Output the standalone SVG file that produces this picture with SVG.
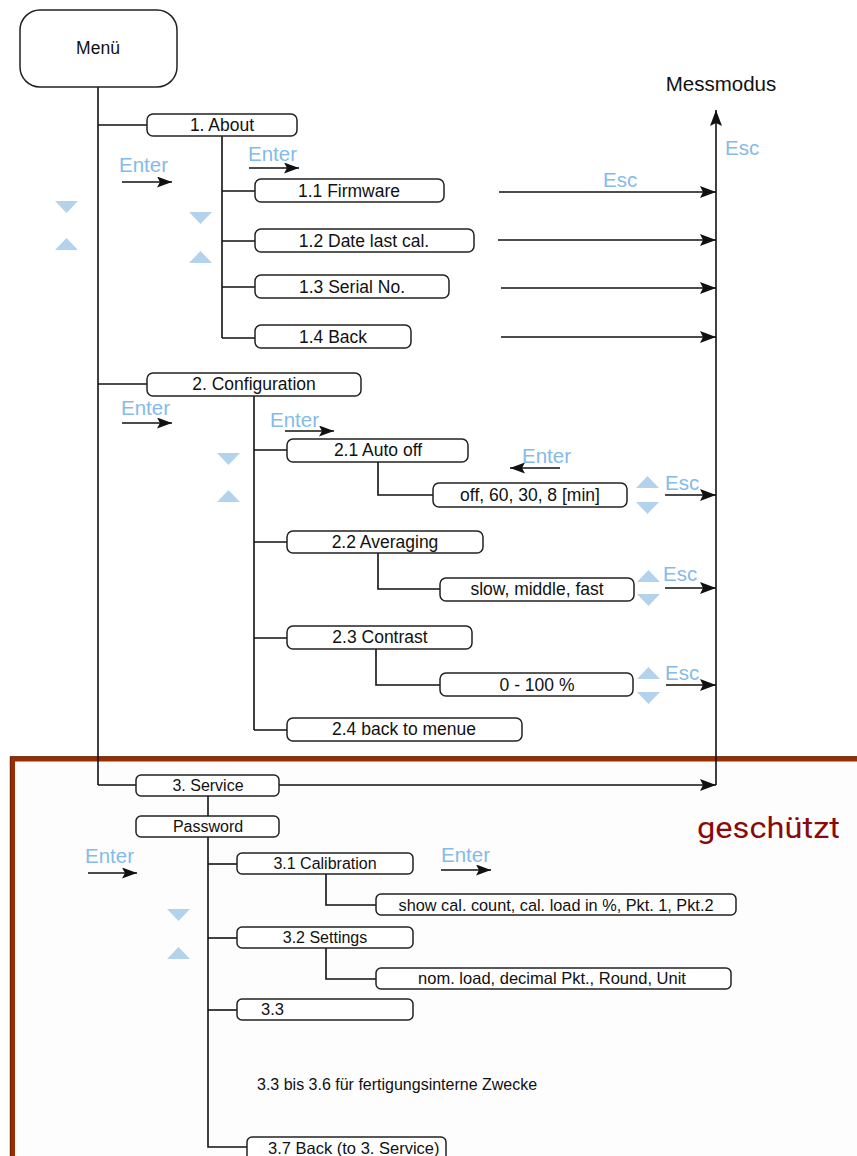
<svg xmlns="http://www.w3.org/2000/svg" width="857" height="1156" viewBox="0 0 857 1156">
<style>
.box{fill:#fff;stroke:#222;stroke-width:1.5}
.t{font-family:"Liberation Sans",Arial,sans-serif;font-size:17.5px;fill:#111;text-anchor:middle;dominant-baseline:central}
.t3{font-family:"Liberation Sans",Arial,sans-serif;font-size:16px;fill:#111;text-anchor:middle;dominant-baseline:central}
.ts{font-family:"Liberation Sans",Arial,sans-serif;font-size:16.5px;fill:#111;text-anchor:start;dominant-baseline:central}
.ln{fill:none;stroke:#111;stroke-width:1.6}
.ar{fill:none;stroke:#111;stroke-width:1.6;marker-end:url(#ah)}
.ars{fill:none;stroke:#111;stroke-width:1.5;marker-end:url(#as)}
.bl{font-family:"Liberation Sans",Arial,sans-serif;font-size:20.5px;fill:#84BBEA}
.tri{fill:#B3D2EC}
</style>
<defs>
<marker id="ah" markerUnits="userSpaceOnUse" markerWidth="16" markerHeight="12" refX="16" refY="6" orient="auto"><path d="M0,0 L16,6 L0,12 L3,6 z" fill="#111"/></marker>
<marker id="as" markerUnits="userSpaceOnUse" markerWidth="15" markerHeight="11" refX="15" refY="5.5" orient="auto"><path d="M0,0 L15,5.5 L0,11 L3,5.5 z" fill="#111"/></marker>
<path id="dn" d="M0,0 L23,0 L11.5,12 z"/>
<path id="up" d="M0,12 L23,12 L11.5,0 z"/>
</defs>
<rect width="857" height="1156" fill="#fff"/>
<!-- protected frame -->
<rect x="12.5" y="759" width="860" height="420" fill="#fdfdfd" stroke="#9A2E00" stroke-width="5"/>
<rect x="10.2" y="756.7" width="864" height="424" fill="none" stroke="#5a1a00" stroke-width="0.8"/>

<g id="connectors">
<line class="ln" x1="98" y1="87" x2="98" y2="785"/>
<polyline class="ln" points="98,785 136,785"/>
<line class="ln" x1="98" y1="125" x2="147" y2="125"/>
<line class="ln" x1="222" y1="136" x2="222" y2="338"/>
<line class="ln" x1="222" y1="191" x2="255" y2="191"/>
<line class="ln" x1="222" y1="241" x2="255" y2="241"/>
<line class="ln" x1="222" y1="287" x2="255" y2="287"/>
<line class="ln" x1="222" y1="338" x2="255" y2="338"/>
<line class="ar" x1="499" y1="192" x2="716" y2="192"/>
<line class="ar" x1="498" y1="240" x2="716" y2="240"/>
<line class="ar" x1="501" y1="288" x2="716" y2="288"/>
<line class="ar" x1="501" y1="337" x2="716" y2="337"/>
<line class="ar" x1="716" y1="785" x2="716" y2="110"/>
<line class="ln" x1="98" y1="384" x2="147" y2="384"/>
<line class="ln" x1="254" y1="396" x2="254" y2="730"/>
<line class="ln" x1="254" y1="450" x2="287" y2="450"/>
<line class="ln" x1="254" y1="542" x2="287" y2="542"/>
<line class="ln" x1="254" y1="638" x2="287" y2="638"/>
<line class="ln" x1="254" y1="730" x2="287" y2="730"/>
<polyline class="ln" points="378,462 378,495 433,495"/>
<polyline class="ln" points="378,553 378,589 440,589"/>
<polyline class="ln" points="376,649 376,685 440,685"/>
<line class="ar" x1="665" y1="495" x2="716" y2="495"/>
<line class="ar" x1="665" y1="588" x2="716" y2="588"/>
<line class="ar" x1="666" y1="685" x2="716" y2="685"/>
<line class="ar" x1="279" y1="785" x2="716" y2="785"/>
<line class="ln" x1="208" y1="796" x2="208" y2="816"/>
<polyline class="ln" points="208,837 208,1147 247,1147" stroke-width="2"/>
<line class="ln" x1="208" y1="864" x2="237" y2="864"/>
<line class="ln" x1="208" y1="938" x2="237" y2="938"/>
<line class="ln" x1="208" y1="1010" x2="237" y2="1010"/>
<polyline class="ln" points="326,874 326,905 376,905"/>
<polyline class="ln" points="326,948 326,979 376,979"/>
</g>

<g id="menu"><rect class="box" x="20" y="10" width="157" height="77" rx="20"/><text class="t" x="98" y="48">Menü</text></g>
<g id="messmodus"><text font-family="Liberation Sans,Arial,sans-serif" font-size="20.5" x="721" y="83" text-anchor="middle" dominant-baseline="central" fill="#111">Messmodus</text></g>

<g id="about"><rect class="box" x="147" y="114" width="150" height="22" rx="6"/><text class="t" x="222" y="125">1. About</text></g>
<g id="firmware"><rect class="box" x="255" y="179" width="189" height="23" rx="6"/><text class="t" x="349" y="191">1.1 Firmware</text></g>
<g id="datelastcal"><rect class="box" x="255" y="229" width="219" height="23" rx="6"/><text class="t" x="364" y="241">1.2 Date last cal.</text></g>
<g id="serialno"><rect class="box" x="255" y="275" width="194" height="23" rx="6"/><text class="t" x="352" y="287">1.3 Serial No.</text></g>
<g id="back14"><rect class="box" x="255" y="325" width="156" height="23" rx="6"/><text class="t" x="333" y="337">1.4 Back</text></g>

<g id="configuration"><rect class="box" x="147" y="373" width="214" height="23" rx="6"/><text class="t" x="254" y="384">2. Configuration</text></g>
<g id="autooff"><rect class="box" x="287" y="439" width="181" height="23" rx="6"/><text class="t" x="378" y="450">2.1 Auto off</text></g>
<g id="autooffvals"><rect class="box" x="433" y="483" width="194" height="24" rx="6"/><text class="t" x="530" y="495">off, 60, 30, 8 [min]</text></g>
<g id="averaging"><rect class="box" x="287" y="531" width="196" height="22" rx="6"/><text class="t" x="385" y="542">2.2 Averaging</text></g>
<g id="averagingvals"><rect class="box" x="440" y="578" width="194" height="23" rx="6"/><text class="t" x="537" y="589">slow, middle, fast</text></g>
<g id="contrast"><rect class="box" x="287" y="626" width="185" height="23" rx="6"/><text class="t" x="380" y="637">2.3 Contrast</text></g>
<g id="contrastvals"><rect class="box" x="440" y="673" width="193" height="23" rx="6"/><text class="t" x="537" y="685">0 - 100 %</text></g>
<g id="backtomenue"><rect class="box" x="287" y="718" width="235" height="23" rx="6"/><text class="t" x="404" y="729">2.4 back to menue</text></g>

<g id="service"><rect class="box" x="136" y="775" width="143" height="21" rx="5"/><text class="t3" x="208" y="785">3. Service</text></g>
<g id="password"><rect class="box" x="136" y="816" width="143" height="21" rx="5"/><text class="t3" x="208" y="826">Password</text></g>
<g id="calibration"><rect class="box" x="237" y="853" width="176" height="21" rx="5"/><text class="t3" x="325" y="863">3.1 Calibration</text></g>
<g id="calvals"><rect class="box" x="376" y="894" width="360" height="21" rx="5"/><text class="t3" x="556" y="905" style="font-size:16.3px">show cal. count, cal. load in %, Pkt. 1, Pkt.2</text></g>
<g id="settings"><rect class="box" x="237" y="927" width="176" height="21" rx="5"/><text class="t3" x="325" y="937">3.2 Settings</text></g>
<g id="settingsvals"><rect class="box" x="376" y="968" width="355" height="21" rx="5"/><text class="t3" x="552" y="978" style="font-size:16.5px">nom. load, decimal Pkt., Round, Unit</text></g>
<g id="n33"><rect class="box" x="237" y="999" width="176" height="21" rx="5"/><text class="ts" x="261" y="1009">3.3</text></g>
<g id="note"><text class="ts" x="257" y="1084" style="font-size:16px">3.3 bis 3.6 für fertigungsinterne Zwecke</text></g>
<g id="back37"><rect class="box" x="247" y="1137" width="199" height="26" rx="5"/><text class="ts" x="268" y="1148">3.7  Back (to 3. Service)</text></g>
<g id="geschuetzt"><text font-family="Roboto,sans-serif" font-size="30" x="697" y="838" fill="#8A0A0A" textLength="143" lengthAdjust="spacingAndGlyphs">geschützt</text></g>

<g id="labels">
<text class="bl" x="119" y="172">Enter</text>
<line class="ars" x1="122" y1="182" x2="172" y2="182"/>
<text class="bl" x="248" y="161">Enter</text>
<line class="ars" x1="249" y1="168" x2="299" y2="168"/>
<text class="bl" x="725" y="155">Esc</text>
<text class="bl" x="603" y="187">Esc</text>
<text class="bl" x="121" y="415">Enter</text>
<line class="ars" x1="122" y1="423" x2="172" y2="423"/>
<text class="bl" x="270" y="427">Enter</text>
<line class="ars" x1="285" y1="431" x2="334" y2="431"/>
<text class="bl" x="522" y="463">Enter</text>
<line class="ars" x1="560" y1="468" x2="510" y2="468"/>
<text class="bl" x="665" y="490">Esc</text>
<text class="bl" x="663" y="581">Esc</text>
<text class="bl" x="665" y="680">Esc</text>
<text class="bl" x="85" y="863">Enter</text>
<line class="ars" x1="88" y1="873" x2="137" y2="873"/>
<text class="bl" x="441" y="862">Enter</text>
<line class="ars" x1="441" y1="870" x2="491" y2="870"/>
</g>
<g id="triangles">
<use href="#dn" class="tri" x="55" y="201"/><use href="#up" class="tri" x="55" y="238"/>
<use href="#dn" class="tri" x="189" y="212"/><use href="#up" class="tri" x="189" y="251"/>
<use href="#dn" class="tri" x="217" y="453"/><use href="#up" class="tri" x="217" y="490"/>
<use href="#up" class="tri" x="636" y="476"/><use href="#dn" class="tri" x="636" y="502"/>
<use href="#up" class="tri" x="637" y="570"/><use href="#dn" class="tri" x="637" y="594"/>
<use href="#up" class="tri" x="637" y="667"/><use href="#dn" class="tri" x="637" y="692"/>
<use href="#dn" class="tri" x="167" y="909"/><use href="#up" class="tri" x="167" y="947"/>
</g>
</svg>
